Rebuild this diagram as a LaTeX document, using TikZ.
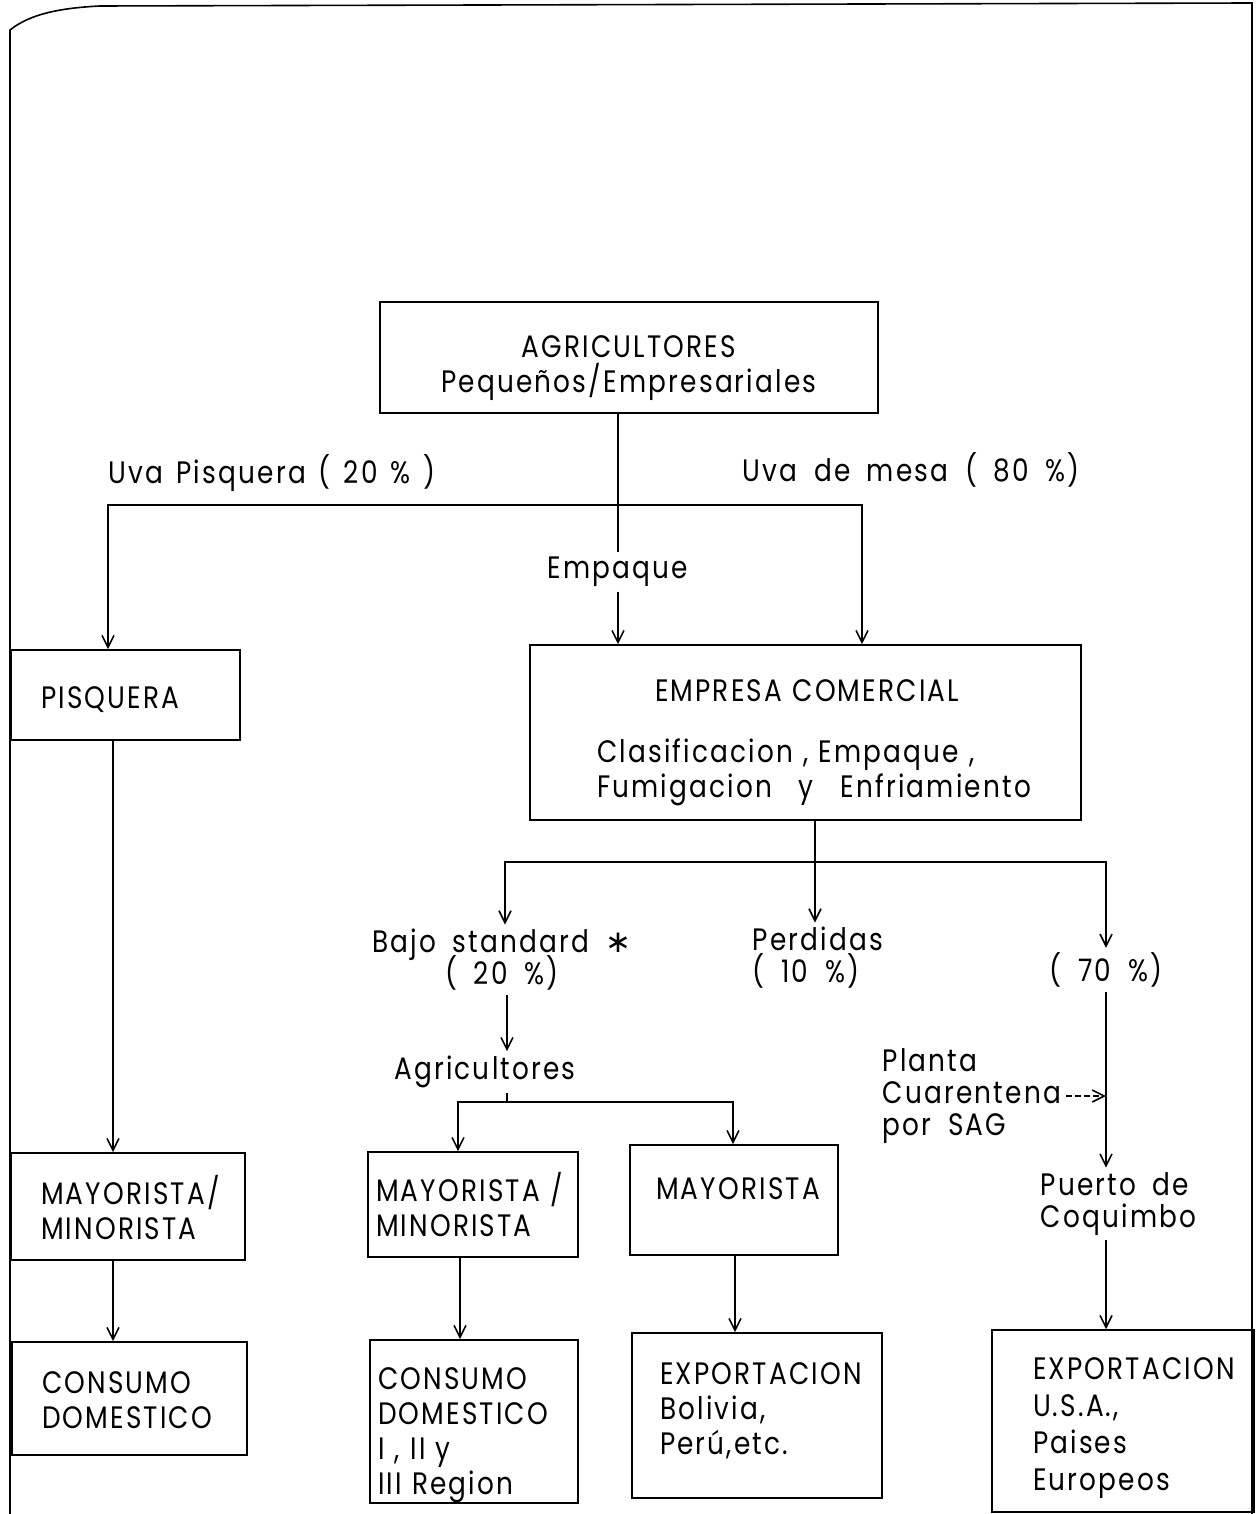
\documentclass[tikz,border=0pt]{standalone}
\usepackage{fontspec}
\setmainfont{Poppins}[FakeStretch=0.85,LetterSpace=7,WordSpace=1.8]
\newfontfamily\symfont{DejaVu Sans}
\usetikzlibrary{arrows.meta}
\newcommand\lblfont{\fontsize{15.5}{16}\selectfont\lineskiplimit-6pt\relax}

\begin{document}
\begin{tikzpicture}[x=0.5pt,y=-0.5pt,line width=0.8pt,
    font=\fontsize{15.5}{17.5}\selectfont,
    >={Straight Barb[length=6pt,width=6pt]},
    box/.style 2 args={draw,align=left,inner ysep=0pt,minimum height=#1,text height=0pt,text depth=#2},
    lbl/.style={inner sep=2pt,font=\lblfont}]
    \useasboundingbox (0,0) rectangle (1256,1514);
    \draw (10,1514) -- (10,30) .. controls (30,14) and (60,8) .. (100,6) -- (1252,3) -- (1252,1514);

    % boxes
    \node[box={55.5pt}{0.5pt},align=center,text width=229pt,inner xsep=10pt] (agri) at (629,357.5) {AGRICULTORES\\Pequeños/Empresariales};
    \node[box={45pt}{0pt},text height=13pt,text width=84.5pt,inner xsep=15pt] (pisq) at (125.5,695) {PISQUERA};
    \node[box={87.5pt}{31.5pt},text width=208.5pt,inner xsep=0pt,minimum width=275.5pt] (emp) at (805.5,732.5)
        {\hspace*{29pt}EMPRESA COMERCIAL\\[13pt]\mbox{Clasificacion , Empaque ,}\\\makebox[217pt][s]{Fumigacion\hfill y\hfill Enfriamiento}};
    \node[box={53.5pt}{2.5pt},text width=87pt,inner xsep=15pt] (mml) at (128,1206.5) {MAYORISTA/\\MINORISTA};
    \node[box={52.5pt}{3.5pt},text width=97pt,inner xsep=4pt] (mmm) at (473,1204.5) {\mbox{MAYORISTA /}\\MINORISTA};
    \node[box={55pt}{1pt},text width=78pt,inner xsep=13pt] (may) at (734,1200) {MAYORISTA};
    \node[box={56.5pt}{5.5pt},text width=87.5pt,inner xsep=15pt] (cdl) at (129.5,1398.5) {CONSUMO\\DOMESTICO};
    \node[box={81.5pt}{32.5pt},text width=96pt,inner xsep=4pt] (cdm) at (474,1421.5) {CONSUMO\\DOMESTICO\\\mbox{I , II y}\\\mbox{III Region}};
    \node[box={82.5pt}{31.5pt},text width=97pt,inner xsep=14pt] (exb) at (757,1415.5) {EXPORTACION\\Bolivia,\\Perú,etc.};
    \node[box={91pt}{42pt},text width=90pt,inner xsep=20.5pt,font=\fontsize{15.5}{18.5}\selectfont] (exu) at (1123,1421) {EXPORTACION\\U.S.A.,\\Paises\\Europeos};

    % labels
    \node[lbl,anchor=west] (uvap) at (104,473) {\makebox[163.5pt][s]{Uva Pisquera ( 20 \% )}};
    \node[lbl,anchor=west] (uvam) at (738,470) {Uva de mesa ( 80 \%)};
    \node[lbl] (empq) at (618,572) {Empaque};
    \node[lbl,align=center] (bajo) at (502,960) {Bajo standard {\symfont ∗}\\( 20 \%)};
    \node[lbl,align=left,anchor=west] (perd) at (748,958) {Perdidas\\( 10 \%)};
    \node[lbl] (p70) at (1106,970) {( 70 \%)};
    \node[lbl] (agr2) at (485,1072) {Agricultores};
    \node[lbl,align=left,anchor=west] (planta) at (878,1096) {Planta\\Cuarentena\\por SAG};
    \node[lbl,align=left,anchor=west] (puerto) at (1036,1204) {Puerto de\\Coquimbo};

    % junctions and columns
    \coordinate (b1) at (108,505);
    \coordinate (b2) at (862,505);
    \coordinate (b3) at (505,862);
    \coordinate (b4) at (1106,862);
    \coordinate (b5) at (458,1102);
    \coordinate (b6) at (733,1102);
    \coordinate (colA) at (113,0);
    \coordinate (colB) at (507,0);
    \coordinate (colC) at (460,0);
    \coordinate (colD) at (735,0);
    \coordinate (colP) at (815,0);

    % connectors
    \draw (agri.south -| empq) -- (empq.north);
    \draw[->] (empq.south) -- (empq.south |- emp.north);
    \draw[<->] (b1 |- pisq.north) -- (b1) -- (b2) -- (b2 |- emp.north);
    \draw[->] (pisq.south -| colA) -- (mml.north -| colA);
    \draw[->] (mml.south -| colA) -- (cdl.north -| colA);
    \draw[->] (emp.south -| colP) -- (perd.north -| colP);
    \draw[<->] (b3 |- bajo.north) -- (b3) -- (b4) -- (b4 |- p70.north);
    \draw[->] (bajo.south -| colB) -- (agr2.north -| colB);
    \draw (agr2.south -| colB) -- (colB |- b5);
    \draw[<->] (b5 |- mmm.north) -- (b5) -- (b6) -- (b6 |- may.north);
    \draw[->] (mmm.south -| colC) -- (cdm.north -| colC);
    \draw[->] (may.south -| colD) -- (exb.north -| colD);
    \draw[->] (p70.south) -- (p70.south |- puerto.north);
    \draw[->] (puerto.south -| p70) -- (exu.north -| p70);
    \draw[->,dash pattern=on 3pt off 1.5pt] (planta.east) -- (planta.east -| p70);
\end{tikzpicture}
\end{document}
